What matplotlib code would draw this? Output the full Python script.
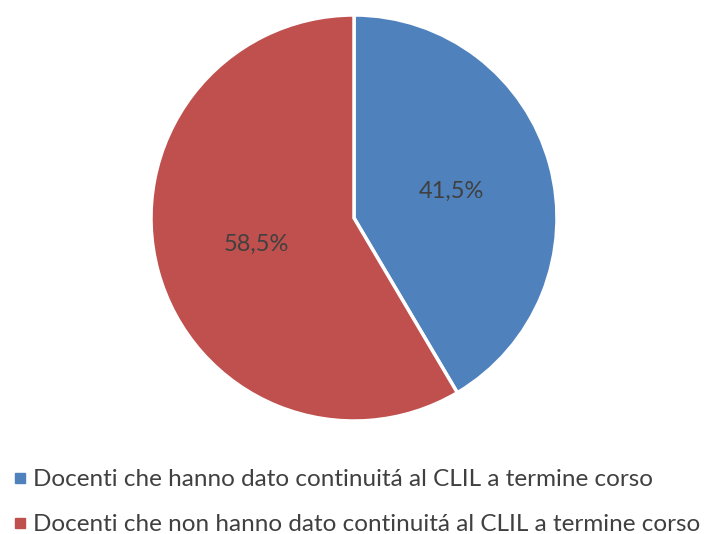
import matplotlib.pyplot as plt
from matplotlib.lines import Line2D

labels = [
    "Docenti che hanno dato continuitá al CLIL a termine corso",
    "Docenti che non hanno dato continuitá al CLIL a termine corso",
]
values = [41.5, 58.5]
colors = ["#4F81BD", "#C0504D"]

plt.rcParams["font.family"] = ["Lato", "DejaVu Sans"]
TEXT = "#404040"

fig = plt.figure(figsize=(7.1, 5.34), dpi=100)
ax = fig.add_axes([151 / 710, 1 - 421 / 534, 406 / 710, 406 / 534])

ax.pie(
    values,
    colors=colors,
    startangle=90,
    counterclock=False,
    radius=1.0,
    autopct=lambda p: f"{p:.1f}%".replace(".", ","),
    pctdistance=0.5,
    wedgeprops={"edgecolor": "white", "linewidth": 2.5},
    textprops={"fontsize": 17, "color": TEXT},
)
ax.set_xlim(-1, 1)
ax.set_ylim(-1, 1)
ax.set_aspect("equal")

handles = [
    Line2D([], [], marker="s", linestyle="none", markersize=7, color=c, label=l)
    for c, l in zip(colors, labels)
]
leg = fig.legend(
    handles=handles,
    loc="upper left",
    bbox_to_anchor=(14 / 710, 1 - 469 / 534),
    frameon=False,
    borderpad=0,
    borderaxespad=0,
    fontsize=17.5,
    handlelength=0.5,
    handletextpad=0.3,
    labelspacing=1.0,
    labelcolor=TEXT,
)

fig.savefig("out.png", dpi=100)
